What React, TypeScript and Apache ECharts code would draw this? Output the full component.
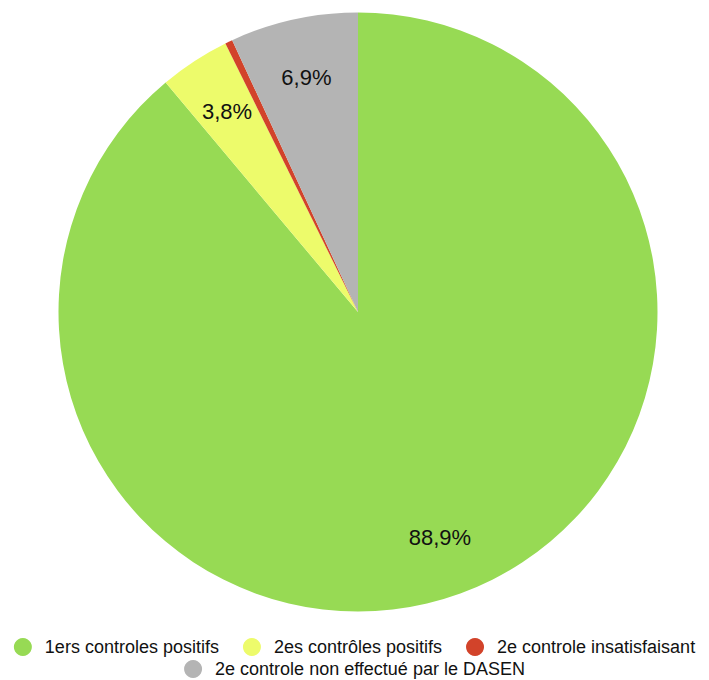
import React, { useEffect, useRef } from "react";
import * as echarts from "echarts";

const categories = [
  "1ers controles positifs",
  "2es contrôles positifs",
  "2e controle insatisfaisant",
  "2e controle non effectué par le DASEN",
];
const values = [88.9, 3.8, 0.4, 6.9];
const colors = ["#97DA54", "#EDFB6B", "#D2432A", "#B4B4B4"];
const hiddenLabels = ["2e controle insatisfaisant"];

const FONT = "'Liberation Sans', Arial, Helvetica, sans-serif";

export default function App() {
  const ref = useRef<HTMLDivElement>(null);
  useEffect(() => {
    document.body.style.margin = "0";
    const chart = echarts.init(ref.current!, null, { renderer: "svg" });
    const data = categories.map((name, i) => ({
      name,
      value: values[i],
      itemStyle: { color: colors[i] },
    }));
    const legendCommon = {
      left: "center",
      orient: "horizontal" as const,
      icon: "circle",
      itemWidth: 18,
      itemHeight: 18,
      itemGap: 24,
      padding: 0,
      selectedMode: false,
      textStyle: {
        fontFamily: FONT,
        fontSize: 18,
        color: "#111",
        padding: [0, 0, 0, 8],
      },
    };
    chart.setOption({
      animation: false,
      backgroundColor: "#fff",
      legend: [
        { ...legendCommon, top: 638, data: categories.slice(0, 3) },
        { ...legendCommon, top: 660, data: categories.slice(3) },
      ],
      series: [
        {
          type: "pie",
          center: [358, 312],
          radius: [0, 299.5],
          startAngle: 90,
          clockwise: true,
          silent: true,
          label: { show: false },
          labelLine: { show: false },
          itemStyle: { borderWidth: 0 },
          data,
        },
        {
          type: "pie",
          center: [358, 312],
          radius: [174, 299.5],
          startAngle: 90,
          clockwise: true,
          silent: true,
          legendHoverLink: false,
          labelLine: { show: false },
          itemStyle: { color: "transparent", borderWidth: 0 },
          label: {
            show: true,
            position: "inside",
            fontFamily: FONT,
            fontSize: 22,
            color: "#111",
            formatter: (p: any) =>
              hiddenLabels.includes(p.name.trim())
                ? ""
                : p.value.toFixed(1).replace(".", ",") + "%",
          },
          data: categories.map((name, i) => ({
            name: name + " ",
            value: values[i],
          })),
        },
      ],
    });
    return () => chart.dispose();
  }, []);
  return <div ref={ref} style={{ width: 709, height: 680 }} />;
}
